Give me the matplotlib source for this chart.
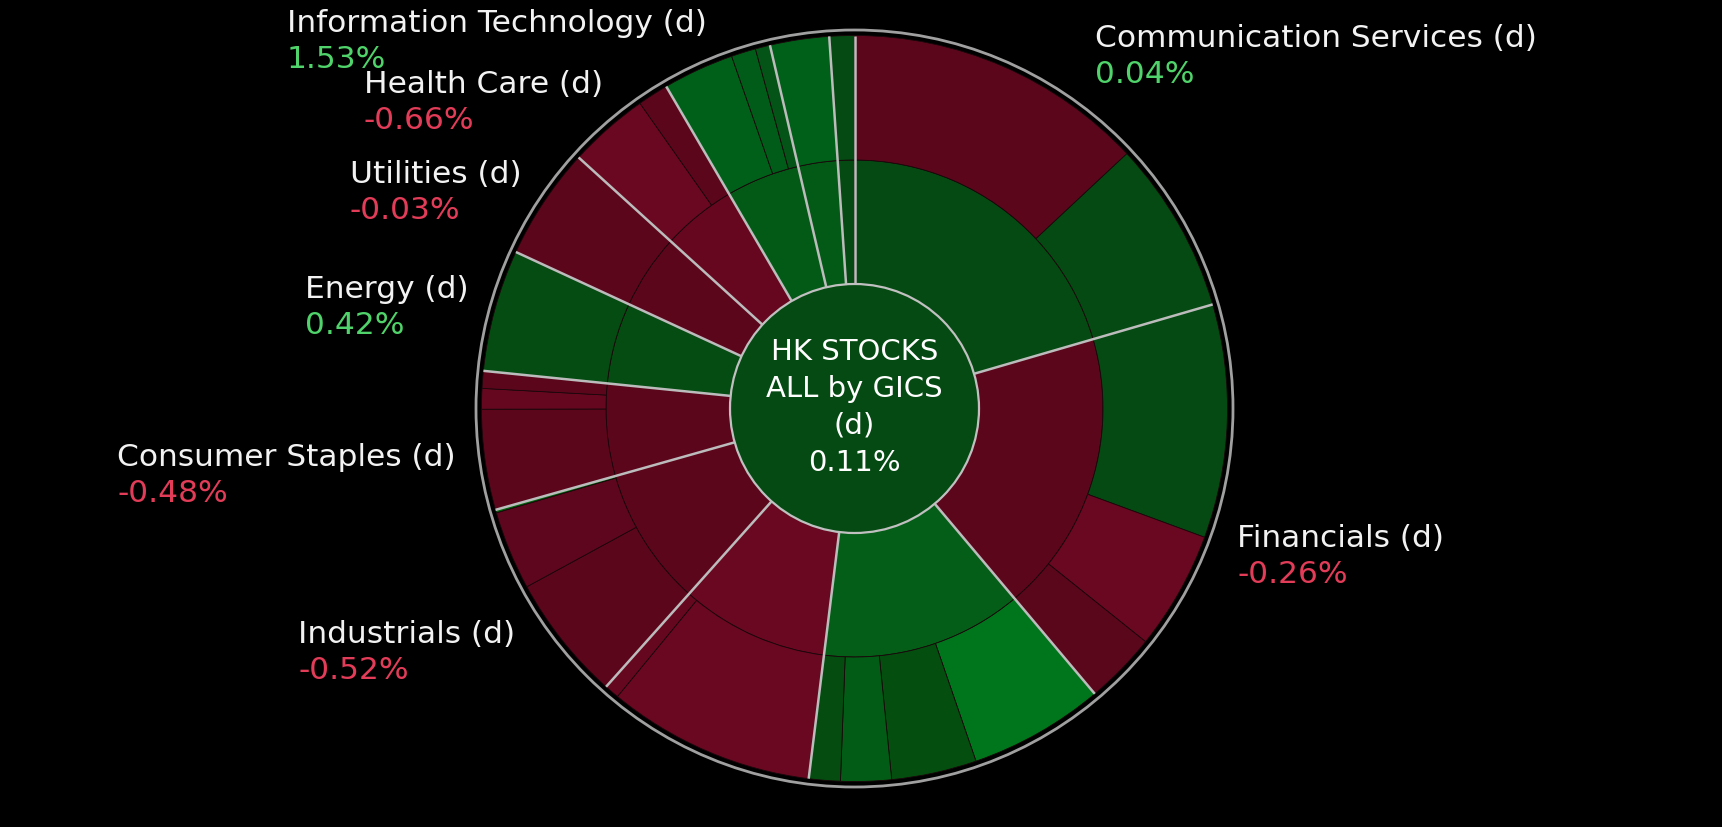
import matplotlib.pyplot as plt
import numpy as np
from matplotlib.patches import Circle
from matplotlib.offsetbox import TextArea, VPacker, AnnotationBbox

# sectors, clockwise from 12 o'clock
sectors = ["Communication Services", "Financials", "Consumer Discretionary",
           "Real Estate", "Industrials", "Consumer Staples", "Energy",
           "Utilities", "Health Care", "Information Technology", "Materials",
           "Conglomerates"]
# daily change of the sector (None = no label shown)
sector_chg = [0.04, -0.26, None, None, -0.52, -0.48, 0.42, -0.03, -0.66,
              1.53, None, None]
# index weight (%) of each sub-industry inside a sector
sub_weights = [
    [13.03, 7.47],
    [10.11, 5.14, 3.11],
    [5.86, 3.69, 2.19, 1.36],
    [9.00, 0.64],
    [5.47, 3.42, 0.13],
    [4.35, 0.89, 0.75],
    [5.28],
    [4.86],
    [3.50, 1.33],
    [3.08, 1.06, 0.64],
    [2.56],
    [1.08],
]
index_name = "HK STOCKS\nALL by GICS\n(d)"
index_chg = 0.11

# colours
DG = '#044a12'
DR = '#5c061c'
BR = '#690820'
sector_colors = [DG, DR, '#045e17', BR, DR, DR, '#044c12', DR, '#66071f',
                 '#035a16', '#035a16', DG]
sub_colors = [
    [DR, DG],
    [DG, BR, '#5a061b'],
    ['#00761c', '#044e10', '#035c16', '#044c10'],
    [BR, '#660720'],
    [DR, '#5e061d', '#03640f'],
    [DR, '#660720', DR],
    ['#044c12'],
    [DR],
    [BR, DR],
    ['#00601a', '#005c18', '#035416'],
    ['#005f19'],
    [DG],
]

W, H = 1722, 827
fig = plt.figure(figsize=(W / 100, H / 100), dpi=100, facecolor='black')
ax = fig.add_axes([0, 0, 1, 1])
ax.set_facecolor('black')

cx, cy = 854.5, H - 408.5
r_center, r_mid, r_out = 124.5, 248.5, 373

sector_sizes = [sum(s) for s in sub_weights]
flat_sizes = [w for s in sub_weights for w in s]
flat_colors = [c for s in sub_colors for c in s]

edge = dict(edgecolor='#1a070b', linewidth=0.6)
ax.pie(sector_sizes, radius=r_mid, center=(cx, cy), startangle=90,
       counterclock=False, colors=sector_colors,
       wedgeprops=dict(width=r_mid - r_center, **edge))
ax.pie(flat_sizes, radius=r_out, center=(cx, cy), startangle=90,
       counterclock=False, colors=flat_colors,
       wedgeprops=dict(width=r_out - r_mid, **edge))

# grey lines between sectors
total = sum(sector_sizes)
bounds = np.concatenate([[0], np.cumsum(sector_sizes)])
for b in bounds[:-1]:
    t = np.radians(90 - b / total * 360)
    ax.plot([cx + r_center * np.cos(t), cx + r_out * np.cos(t)],
            [cy + r_center * np.sin(t), cy + r_out * np.sin(t)],
            color='#bcbcbc', lw=1.8, solid_capstyle='butt', zorder=4)

ax.add_patch(Circle((cx, cy), r_center, fc=DG, ec='#c0c0c0', lw=1.6, zorder=5))
ax.add_patch(Circle((cx, cy), 378.5, fill=False, ec='#a0a0a0', lw=2.0, zorder=5))

ax.text(cx, cy + 1, f"{index_name}\n{index_chg:.2f}%", color='white',
        fontsize=21, ha='center', va='center', linespacing=1.4, zorder=6,
        family='DejaVu Sans')

# sector labels
r_lab = 400
for i, name in enumerate(sectors):
    chg = sector_chg[i]
    if chg is None:
        continue
    mid = (bounds[i] + bounds[i + 1]) / 2
    t = np.radians(90 - mid / total * 360)
    x, y = cx + r_lab * np.cos(t), cy + r_lab * np.sin(t)
    col = '#4fd36a' if chg >= 0 else '#e23c58'
    t1 = TextArea(name + " (d)", textprops=dict(color='#f2f2f2', fontsize=22.5,
                                                family='DejaVu Sans'))
    t2 = TextArea(f"{chg:.2f}%", textprops=dict(color=col, fontsize=22.5,
                                                family='DejaVu Sans'))
    box = VPacker(children=[t1, t2], align='left', pad=0, sep=5)
    bx = 1 if np.cos(t) < 0 else 0
    if np.sin(t) < 0:
        by = 1
    elif np.cos(t) > 0:
        by = 0
    else:
        by = 0.5
        y -= 5
    ab = AnnotationBbox(box, (x, y), xycoords='data', box_alignment=(bx, by),
                        frameon=False, pad=0, zorder=6)
    ax.add_artist(ab)

ax.set_xlim(0, W)
ax.set_ylim(0, H)
ax.set_aspect('equal')
ax.axis('off')

fig.savefig('out.png', dpi=100, facecolor='black')
